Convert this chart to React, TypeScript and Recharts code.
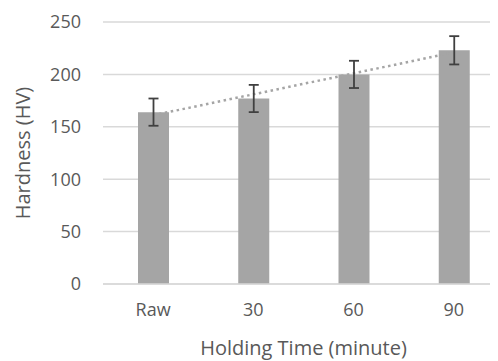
import { ComposedChart, Bar, Line, XAxis, YAxis, CartesianGrid, ErrorBar } from "recharts";

const categories = ["Raw", "30", "60", "90"];
const hardness = [164, 177, 200, 223];
const errors = [13, 13, 13, 13.5];
const trend = [161, 181, 201, 221];
const yTicks = [0, 50, 100, 150, 200, 250];

const data = categories.map((c, i) => ({
  name: c,
  hardness: hardness[i],
  err: errors[i],
  trend: trend[i]
}));

const textColor = "#595959";
const font = "'Open Sans', sans-serif";

export default function App() {
  return (
    <div style={{ marginLeft: -8, marginTop: -8, width: 498, height: 361, overflow: "hidden", background: "#fff" }}>
      <ComposedChart width={504} height={361} data={data} margin={{ top: 22, right: 0, left: 0, bottom: 0 }}>
        <CartesianGrid vertical={false} stroke="#d9d9d9" strokeWidth={1.5} />
        <XAxis
          dataKey="name"
          height={77}
          axisLine={{ stroke: "#d9d9d9", strokeWidth: 1.5 }}
          tickLine={false}
          tickMargin={13}
          tick={{ fill: textColor, fontSize: 18, fontFamily: font }}
          label={{ value: "Holding Time (minute)", position: "insideBottom", offset: 6, fill: textColor, fontSize: 20, fontFamily: font }}
        />
        <YAxis
          width={103}
          domain={[0, 250]}
          ticks={yTicks}
          axisLine={false}
          tickLine={false}
          tickMargin={16}
          tick={{ fill: textColor, fontSize: 18, fontFamily: font }}
          label={{ value: "Hardness (HV)", angle: -90, position: "insideLeft", dx: 18, style: { textAnchor: "middle" }, fill: textColor, fontSize: 20, fontFamily: font }}
        />
        <Line
          dataKey="trend"
          stroke="#a5a5a5"
          strokeWidth={2.5}
          strokeDasharray="2.5 3.5"
          dot={false}
          activeDot={false}
          isAnimationActive={false}
        />
        <Bar dataKey="hardness" fill="#a5a5a5" barSize={31} isAnimationActive={false}>
          <ErrorBar dataKey="err" width={5} stroke="#404040" strokeWidth={1.8} direction="y" />
        </Bar>
      </ComposedChart>
    </div>
  );
}
